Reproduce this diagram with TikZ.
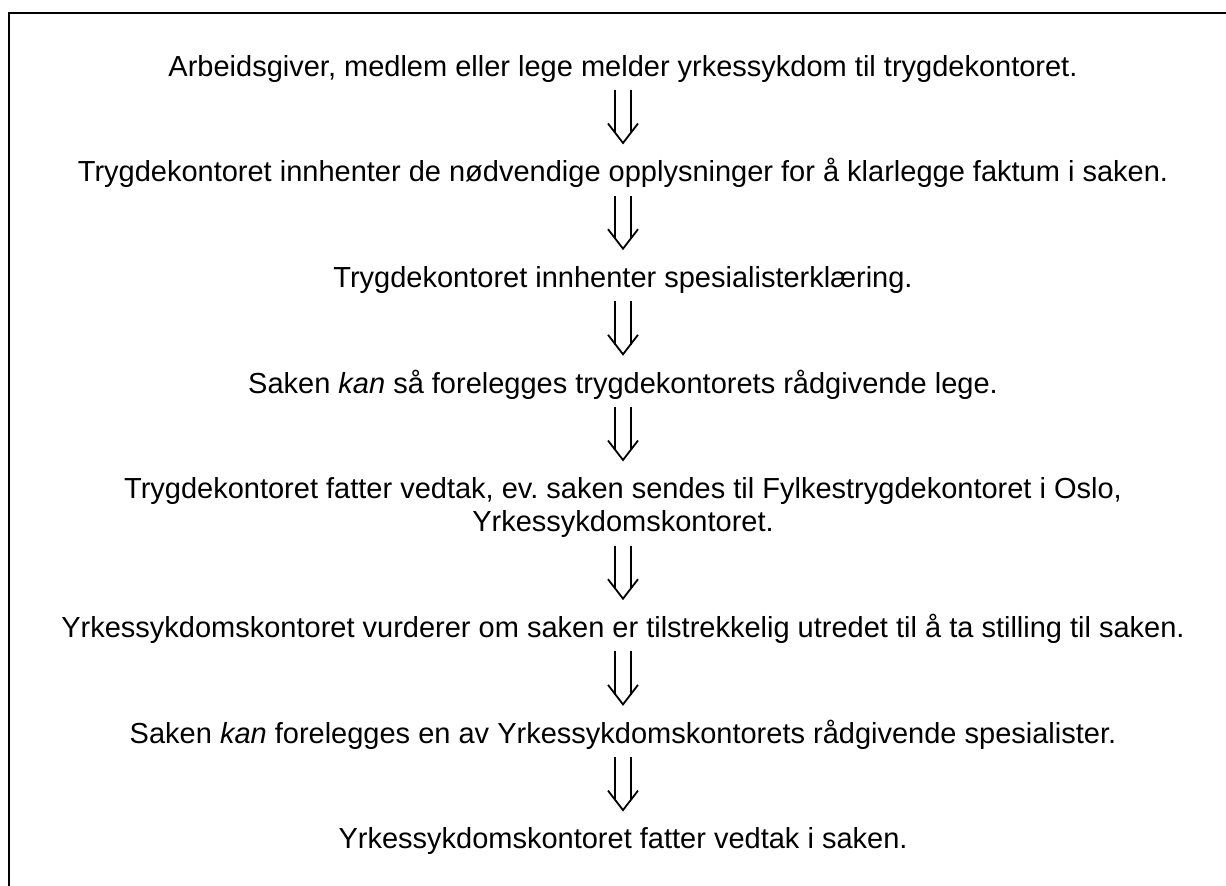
\documentclass[tikz,border=0pt]{standalone}
\usepackage{fontspec}
\setmainfont{Liberation Sans}
\usetikzlibrary{calc}
\frenchspacing
\tikzset{
  stepnode/.style={anchor=base, inner sep=0pt, align=center, font=\fontsize{29}{33}\selectfont},
  arrline/.style={line width=1.8pt, line cap=butt, line join=miter},
  frameline/.style={line width=2pt}
}
\newcommand\dblarr[2]{%
  \draw[arrline] ($#1+(-7.75,0)$) -- ($#2+(-7.75,-9.75)$);
  \draw[arrline] ($#1+(7.75,0)$) -- ($#2+(7.75,-9.75)$);
  \draw[arrline] ($#2+(-15,-19.5)$) -- #2 -- ($#2+(15,-19.5)$);
}
\begin{document}
\begin{tikzpicture}[x=1pt,y=-1pt]
\useasboundingbox (0,0) rectangle (1226,886);
\fill[white] (0,0) rectangle (1226,886);
\draw[frameline] (1228,13) -- (9,13) -- (9,888);
\node[stepnode] (s1) at (623,76) {Arbeidsgiver, medlem eller lege melder yrkessykdom til trygdekontoret.};
\node[stepnode] (s2) at (623,181.7) {Trygdekontoret innhenter de nødvendige opplysninger for å klarlegge faktum i saken.};
\node[stepnode] (s3) at (623,287.4) {Trygdekontoret innhenter spesialisterklæring.};
\node[stepnode] (s4) at (623,393) {Saken \textit{kan} så forelegges trygdekontorets rådgivende lege.};
\node[stepnode] (s5) at (623,531.7) {Trygdekontoret fatter vedtak, ev. saken sendes til Fylkestrygdekontoret i Oslo,\\Yrkessykdomskontoret.};
\node[stepnode] (s6) at (623,637.4) {Yrkessykdomskontoret vurderer om saken er tilstrekkelig utredet til å ta stilling til saken.};
\node[stepnode] (s7) at (623,743.1) {Saken \textit{kan} forelegges en av Yrkessykdomskontorets rådgivende spesialister.};
\node[stepnode] (s8) at (623,848.8) {Yrkessykdomskontoret fatter vedtak i saken.};
\dblarr{($(s1.base)+(0,14)$)}{($(s2.base)+(0,-38.7)$)}
\dblarr{($(s2.base)+(0,14)$)}{($(s3.base)+(0,-38.7)$)}
\dblarr{($(s3.base)+(0,14)$)}{($(s4.base)+(0,-38.7)$)}
\dblarr{($(s4.base)+(0,14)$)}{($(s5.base)+(0,-71.7)$)}
\dblarr{($(s5.base)+(0,14)$)}{($(s6.base)+(0,-38.7)$)}
\dblarr{($(s6.base)+(0,14)$)}{($(s7.base)+(0,-38.7)$)}
\dblarr{($(s7.base)+(0,14)$)}{($(s8.base)+(0,-38.7)$)}
\end{tikzpicture}
\end{document}
